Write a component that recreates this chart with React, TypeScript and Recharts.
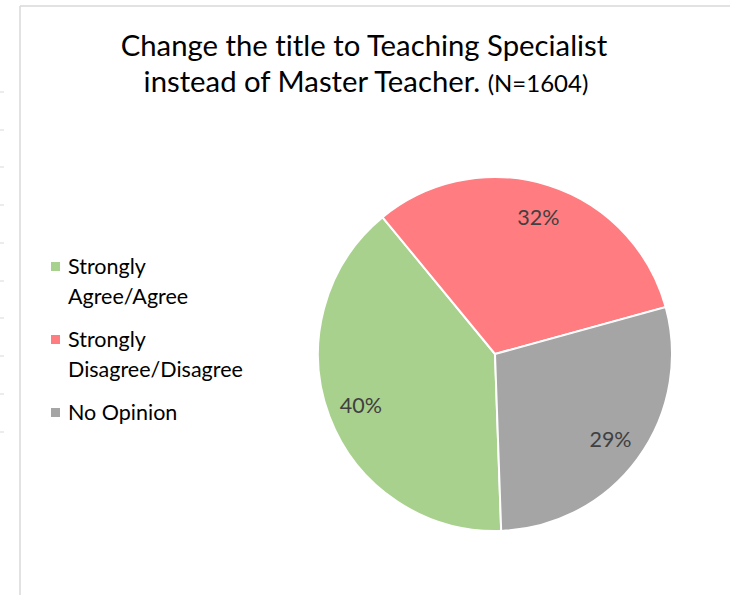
import React from 'react';
import { PieChart, Pie, Cell, Legend } from 'recharts';

const categories = ['Strongly Agree/Agree', 'Strongly Disagree/Disagree', 'No Opinion'];
const values = [40, 32, 29];
const colors = ['#A9D18E', '#FF7C80', '#A5A5A5'];
const titleLine1 = 'Change the title to Teaching Specialist';
const titleLine2 = 'instead of Master Teacher.';
const titleNote = '(N=1604)';
const sideTicks = [92, 130, 167, 205, 243, 281, 318, 356, 394, 432];

const data = categories.map((name, i) => ({ name, value: values[i] }));

const FONT = 'Lato, "Noto Sans", sans-serif';
const W = 730;
const H = 595;
const NOLIG: React.CSSProperties = { fontVariantLigatures: 'none', fontFeatureSettings: '"liga" 0, "clig" 0, "dlig" 0' };

const RAD = Math.PI / 180;

const renderLabel = (props: any) => {
  const { cx, cy, midAngle, outerRadius, value } = props;
  const r = outerRadius * 0.81;
  const x = cx + r * Math.cos(-midAngle * RAD);
  const y = cy + r * Math.sin(-midAngle * RAD);
  return (
    <text
      x={x}
      y={y}
      textAnchor="middle"
      dominantBaseline="central"
      fill="#404040"
      fontFamily={FONT}
      fontSize={21.5}
    >
      {`${value}%`}
    </text>
  );
};

const renderLegend = () => {
  return (
    <div style={{ fontFamily: FONT, fontSize: 21.5, color: '#000', lineHeight: '30px', ...NOLIG }}>
      {categories.map((name, i) => (
        <div key={name} style={{ display: 'flex', alignItems: 'flex-start', marginBottom: 13 }}>
          <div
            style={{
              width: 9,
              height: 9,
              background: colors[i],
              marginTop: 11,
              marginRight: 8,
              flexShrink: 0,
            }}
          />
          <div style={{ width: 185 }}>{name}</div>
        </div>
      ))}
    </div>
  );
};

export default function App() {
  return (
    <div style={{ position: 'absolute', left: 0, top: 0, width: W, height: H, background: '#fff', overflow: 'hidden' }}>
      <svg width={W} height={H} style={{ position: 'absolute', left: 0, top: 0 }}>
        <line x1={20} y1={6} x2={W} y2={6} stroke="#D9D9D9" strokeWidth={1.5} />
        <line x1={20} y1={6} x2={20} y2={H} stroke="#D9D9D9" strokeWidth={1.5} />
        {sideTicks.map((t) => (
          <line key={t} x1={0} y1={t} x2={4} y2={t} stroke="#D9D9D9" strokeWidth={1} />
        ))}
        <text x={364} y={56} textAnchor="middle" fontFamily={FONT} fontSize={29.3} fill="#000" style={NOLIG}>
          {titleLine1}
        </text>
        <text x={366} y={92} textAnchor="middle" fontFamily={FONT} fill="#000" style={NOLIG}>
          <tspan fontSize={29.3}>{titleLine2} </tspan>
          <tspan fontSize={24}>{titleNote}</tspan>
        </text>
      </svg>
      <div style={{ position: 'absolute', left: 0, top: 0 }}>
        <PieChart width={W} height={H} margin={{ top: 0, right: 0, bottom: 0, left: 0 }}>
          <Pie
            data={data}
            dataKey="value"
            nameKey="name"
            cx={495}
            cy={354}
            outerRadius={177}
            startAngle={-88}
            endAngle={-448}
            stroke="#FFFFFF"
            strokeWidth={2}
            label={renderLabel}
            labelLine={false}
            isAnimationActive={false}
          >
            {data.map((d, i) => (
              <Cell key={d.name} fill={colors[i]} />
            ))}
          </Pie>
          <Legend
            layout="vertical"
            content={renderLegend}
            wrapperStyle={{ position: 'absolute', left: 51, top: 251, width: 260, bottom: 'auto', right: 'auto' }}
          />
        </PieChart>
      </div>
    </div>
  );
}
